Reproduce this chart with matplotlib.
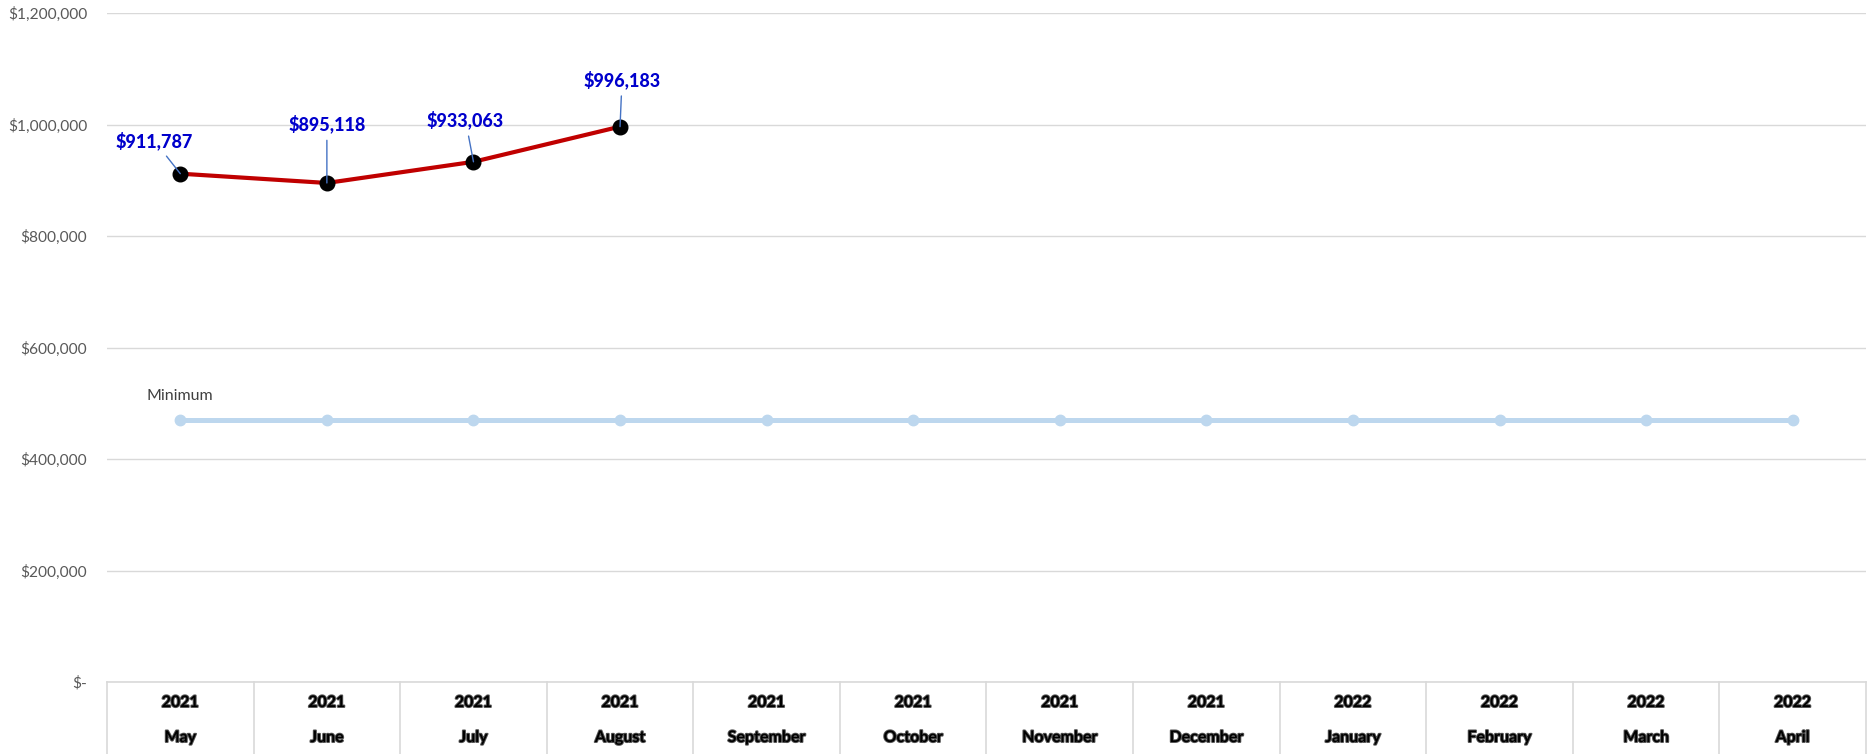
import matplotlib
matplotlib.use("Agg")
import matplotlib.pyplot as plt
import matplotlib.patheffects as pe
from matplotlib.ticker import FuncFormatter

plt.rcParams["font.family"] = ["Lato", "DejaVu Sans"]

years = ["2021", "2021", "2021", "2021", "2021", "2021", "2021", "2021",
         "2022", "2022", "2022", "2022"]
months = ["May", "June", "July", "August", "September", "October",
          "November", "December", "January", "February", "March", "April"]
revenue = [911787, 895118, 933063, 996183]
minimum = [470000, 470000, 470000, 470000, 470000, 470000,
           470000, 470000, 470000, 470000, 470000, 470000]
y_ticks = [0, 200000, 400000, 600000, 800000, 1000000, 1200000]

# label offsets (pixels) for the revenue data labels
label_offsets = [(-26, 33), (0, 59), (-8, 42), (2, 47)]

W, H, DPI = 1871, 754, 100
fig = plt.figure(figsize=(W / DPI, H / DPI), dpi=DPI)
left_px, right_px, top_px, bottom_px = 107, 1866, 13, 682
ax = fig.add_axes([left_px / W, (H - bottom_px) / H,
                   (right_px - left_px) / W, (bottom_px - top_px) / H])

grid_col = "#d9d9d9"
x_all = list(range(len(months)))
x_rev = x_all[:len(revenue)]

# minimum line
ax.plot(x_all, minimum, color="#bdd7ee", lw=3.6, marker="o", ms=7.5,
        markerfacecolor="#bdd7ee", markeredgecolor="#bdd7ee", zorder=3,
        solid_capstyle="round")
ax.annotate("Minimum", (x_all[0], minimum[0]), xytext=(0, 24),
            textcoords="offset pixels", ha="center", va="center",
            fontsize=11.5, color="#404040")

# revenue line
ax.plot(x_rev, revenue, color="#c00000", lw=3, zorder=4,
        solid_capstyle="round")
ax.plot(x_rev, revenue, ls="none", marker="o", ms=10.5, color="black", zorder=5)

for xi, val, (dx, dy) in zip(x_rev, revenue, label_offsets):
    ax.annotate(f"${val:,.0f}", (xi, val), xytext=(dx, dy),
                textcoords="offset pixels", ha="center", va="center",
                fontsize=13, fontweight="black", color="#0000cc",
                arrowprops=dict(arrowstyle="-", color="#4472c4", lw=1,
                                shrinkA=3, shrinkB=0),
                zorder=6)

ax.set_xlim(-0.5, len(months) - 0.5)
ax.set_ylim(0, 1200000)
ax.set_yticks(y_ticks)
ax.yaxis.set_major_formatter(
    FuncFormatter(lambda v, p: "$-" if v == 0 else f"${v:,.0f}"))
ax.tick_params(axis="y", length=0, pad=14.4, labelsize=11.2, labelcolor="#595959")
ax.set_xticks([])
ax.grid(axis="y", color=grid_col, lw=1)
ax.set_axisbelow(True)
for s in ax.spines.values():
    s.set_visible(False)

# category table below the plot
trans = ax.get_xaxis_transform()
ax_h = bottom_px - top_px
table_bottom = -(H - bottom_px) / ax_h
ax.plot([-0.5, len(months) - 0.5], [0, 0], transform=trans, color=grid_col,
        lw=1.2, clip_on=False)
for b in range(len(months) + 1):
    ax.plot([b - 0.5, b - 0.5], [0, table_bottom], transform=trans,
            color=grid_col, lw=1.2, clip_on=False)

year_y = -(703 - bottom_px) / ax_h
month_y = -(738 - bottom_px) / ax_h
stroke = [pe.withStroke(linewidth=1.4, foreground="#555555")]
for xi, (yr, mo) in enumerate(zip(years, months)):
    ax.text(xi, year_y, yr, transform=trans, ha="center", va="center",
            fontsize=11.5, fontweight="bold", color="black", path_effects=stroke)
    ax.text(xi, month_y, mo, transform=trans, ha="center", va="center",
            fontsize=11.5, fontweight="bold", color="black", path_effects=stroke)

fig.savefig("out.png", dpi=DPI)
